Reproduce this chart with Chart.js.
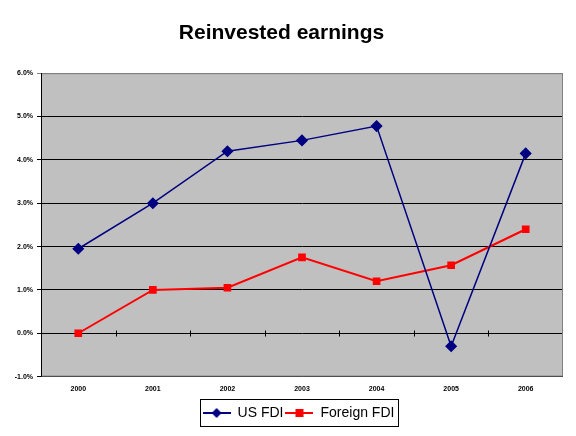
<!DOCTYPE html>
<html>
<head>
<meta charset="utf-8">
<script src="https://cdn.jsdelivr.net/npm/chart.js@4/dist/chart.umd.min.js"></script>
<style>
  html, body { margin: 0; padding: 0; background: #fff; }
  #wrap { width: 576px; height: 436px; }
</style>
</head>
<body>
<div id="wrap"><canvas id="reinvested-chart"></canvas></div>
<script>
var years = ['2000', '2001', '2002', '2003', '2004', '2005', '2006'];
var usFdi = [1.95, 3.0, 4.2, 4.45, 4.78, -0.3, 4.15];
var foreignFdi = [0.0, 1.0, 1.05, 1.75, 1.2, 1.57, 2.4];

// legend sample: short line with the marker in the middle
function legendIcon(color, shape) {
    var c = document.createElement('canvas');
    c.width = 28; c.height = 12;
    var ctx = c.getContext('2d');
    ctx.strokeStyle = color;
    ctx.lineWidth = 2;
    ctx.beginPath(); ctx.moveTo(0, 6); ctx.lineTo(28, 6); ctx.stroke();
    ctx.fillStyle = color;
    ctx.beginPath();
    if (shape === 'diamond') {
        ctx.moveTo(14, 1); ctx.lineTo(19, 6); ctx.lineTo(14, 11); ctx.lineTo(9, 6);
    } else {
        ctx.rect(10, 2, 8, 8);
    }
    ctx.closePath(); ctx.fill();
    return c;
}

var plotArea = {
    id: 'plotArea',
    beforeDraw(chart) {
        var a = chart.chartArea, ctx = chart.ctx;
        ctx.save();
        ctx.fillStyle = '#c0c0c0';
        ctx.fillRect(a.left, a.top, a.right - a.left, a.bottom - a.top);
        ctx.restore();
        // legend sits a little right of centre in the original
        chart.legend.left += 17;
        chart.legend.right += 17;
        chart.legend.top += 3;
        chart.legend.bottom += 3;
    },
    afterDatasetsDraw(chart) {
        var a = chart.chartArea, ctx = chart.ctx;
        var x = chart.scales.x, y = chart.scales.y;
        ctx.save();
        ctx.strokeStyle = '#808080';
        ctx.lineWidth = 1;
        ctx.strokeRect(a.left + 0.5, a.top + 0.5, a.right - a.left - 1, a.bottom - a.top - 1);
        ctx.strokeStyle = '#000';
        ctx.beginPath();
        ctx.moveTo(a.left + 0.5, a.top); ctx.lineTo(a.left + 0.5, a.bottom);
        // category tick marks on the zero line
        var y0 = Math.round(y.getPixelForValue(0)) + 0.5;
        for (var i = 1; i < years.length; i++) {
            var px = Math.round(x.getPixelForValue(i - 0.5)) + 0.5;
            ctx.moveTo(px, y0 - 3); ctx.lineTo(px, y0 + 3);
        }
        ctx.stroke();
        ctx.restore();
    },
    afterDraw(chart) {
        var l = chart.legend, ctx = chart.ctx;
        ctx.save();
        ctx.strokeStyle = '#000';
        ctx.lineWidth = 1;
        var w = 198, h = 27;
        var lx = Math.round((l.left + l.right - w) / 2) + 0.5;
        ctx.strokeRect(lx, Math.round(l.top + (l.height - h) / 2) - 4 + 0.5, w, h);
        // undo the shift so the next layout starts clean
        l.left -= 17;
        l.right -= 17;
        l.top -= 3;
        l.bottom -= 3;
        ctx.restore();
    }
};

new Chart(document.getElementById('reinvested-chart'), {
    type: 'line',
    data: {
        labels: years,
        datasets: [{
            label: 'US FDI',
            data: usFdi,
            borderColor: '#000080',
            backgroundColor: '#000080',
            borderWidth: 1.5,
            pointStyle: 'rectRot',
            pointRadius: 5,
            pointHoverRadius: 5,
            tension: 0
        }, {
            label: 'Foreign FDI',
            data: foreignFdi,
            borderColor: '#ff0000',
            backgroundColor: '#ff0000',
            borderWidth: 2,
            pointStyle: 'rect',
            pointRadius: 4,
            pointHoverRadius: 4,
            tension: 0
        }]
    },
    options: {
        responsive: true,
        maintainAspectRatio: false,
        animation: false,
        layout: { padding: { left: 0, right: 13, top: 18, bottom: 9 } },
        plugins: {
            title: {
                display: true,
                text: 'Reinvested earnings',
                color: '#000',
                font: { family: 'Liberation Sans', size: 21, weight: 'bold' },
                padding: { top: 3, bottom: 27 }
            },
            legend: {
                position: 'bottom',
                labels: {
                    usePointStyle: true,
                    pointStyleWidth: 28,
                    generateLabels: function (chart) {
                        return chart.data.datasets.map(function (ds, i) {
                            return {
                                text: ds.label,
                                datasetIndex: i,
                                fontColor: '#000',
                                pointStyle: legendIcon(ds.borderColor, i === 0 ? 'diamond' : 'square'),
                                lineWidth: 0,
                                strokeStyle: 'transparent',
                                fillStyle: ds.borderColor
                            };
                        });
                    },
                    font: { family: 'Liberation Sans', size: 14 },
                    color: '#000',
                    padding: 2,
                    boxWidth: 28
                }
            },
            tooltip: { enabled: false }
        },
        scales: {
            x: {
                offset: true,
                grid: { display: false, drawTicks: false },
                border: { display: false },
                ticks: {
                    color: '#000',
                    padding: 8,
                    font: { family: 'Liberation Sans', size: 7, weight: 'bold' },
                    maxRotation: 0
                }
            },
            y: {
                min: -1,
                max: 6,
                afterFit: function (scale) { scale.width = 41; },
                grid: {
                    color: function (c) { return c.tick && c.tick.value === 6 ? '#808080' : '#000'; },
                    tickLength: 4,
                    lineWidth: 1
                },
                border: { display: true, color: '#000' },
                ticks: {
                    stepSize: 1,
                    color: '#000',
                    padding: 4,
                    font: { family: 'Liberation Sans', size: 7, weight: 'bold' },
                    callback: function (v) { return v.toFixed(1) + '%'; }
                }
            }
        }
    },
    plugins: [plotArea]
});
</script>
</body>
</html>
